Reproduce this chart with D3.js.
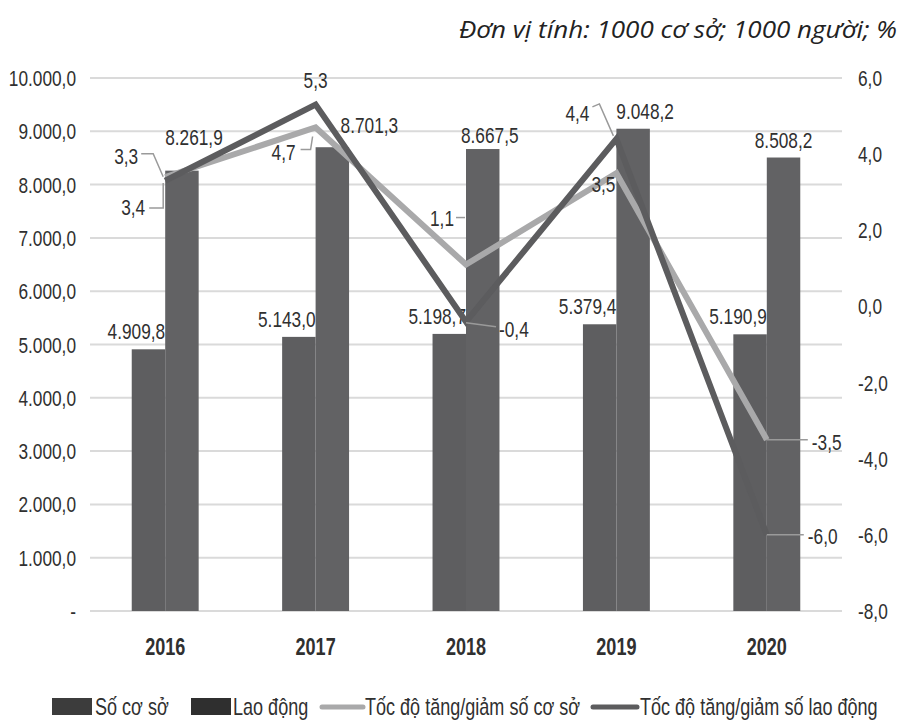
<!DOCTYPE html>
<html>
<head>
<meta charset="utf-8">
<script src="https://cdn.jsdelivr.net/npm/d3@7"></script>
<style>
  body { margin: 0; background: #fff; }
  svg { display: block; }
  text { font-family: "Liberation Sans Narrow", "Liberation Sans", Arial, sans-serif; fill: #303030; }
</style>
</head>
<body>
<svg width="902" height="721"></svg>
<script>
// so lieu bieu do
const years = ["2016", "2017", "2018", "2019", "2020"];
const soCoSo = [4909.8, 5143.0, 5198.7, 5379.4, 5190.9];
const laoDong = [8261.9, 8701.3, 8667.5, 9048.2, 8508.2];
const tocDoCoSo = [3.4, 4.7, 1.1, 3.5, -3.5];
const tocDoLaoDong = [3.3, 5.3, -0.4, 4.4, -6.0];
const leftTicks = [0, 1000, 2000, 3000, 4000, 5000, 6000, 7000, 8000, 9000, 10000];
const rightTicks = [-8, -6, -4, -2, 0, 2, 4, 6];
const legendNames = ["Số cơ sở", "Lao động", "Tốc độ tăng/giảm số cơ sở", "Tốc độ tăng/giảm số lao động"];

// vi tri nhan (chi de dat nhan, khong phai so lieu)
const ldNudge = [[12, -16], [37, -4], [7, 4], [12, 0], [0, 0]];
const coSoLab = [
  {anchor: "end", dx: -20, dy: 38, leader: [[-16, 31], [-2, 31], [-2, 6]]},
  {anchor: "end", dx: -20, dy: 33, leader: [[-15, 22], [-5, 22], [-3, 9]]},
  {anchor: "end", dx: -12, dy: -39, leader: [[-10, -47], [-1, -47]]},
  {anchor: "end", dx: -1, dy: 19, leader: null},
  {anchor: "start", dx: 45, dy: 10, leader: [[0, 0], [41, 0]]}
];
const laoDongLab = [
  {anchor: "end", dx: -27, dy: -17, leader: [[-24, -27], [-12, -27], [-2, -4]]},
  {anchor: "middle", dx: 0, dy: -17, leader: null},
  {anchor: "start", dx: 33, dy: 15, leader: [[0, 1], [30, 5]]},
  {anchor: "end", dx: -27, dy: -18, leader: [[-24, -32], [-17, -35], [-3, -3]]},
  {anchor: "start", dx: 41, dy: 9, leader: [[0, 0], [37, 0]]}
];

const svg = d3.select("svg");
const plotLeft = 90, plotRight = 842, plotTop = 78, plotBottom = 611;
const squeeze = 0.785; // chu hep kieu Arial Narrow

// ve chu hep: dat goc bang translate roi co ngang
function narrowText(parent, x, y, str, anchor, size, weight) {
  return parent.append("text")
    .attr("transform", "translate(" + x + "," + y + ") scale(" + squeeze + ",1)")
    .attr("text-anchor", anchor || "start")
    .style("font-size", (size || 22) + "px")
    .style("font-weight", weight || "normal")
    .text(str);
}

const vn = d3.formatLocale({decimal: ",", thousands: ".", grouping: [3], currency: ["", ""], minus: "-"});
const fmtBig = vn.format(",.1f");
const fmtPct = vn.format(".1f");

const x = d3.scaleBand().domain(years).range([plotLeft, plotRight]);
const groupW = x.bandwidth() * 0.445;
const x1 = d3.scaleBand().domain(["coso", "laodong"]).range([0, groupW]);
const yL = d3.scaleLinear().domain([0, 10000]).range([plotBottom, plotTop]);
const yR = d3.scaleLinear().domain([-8, 6]).range([plotBottom, plotTop]);

// tieu de don vi
const title = svg.append("text")
  .attr("x", 897).attr("y", 38)
  .attr("text-anchor", "end")
  .style("font-family", "'Open Sans', 'Noto Sans', sans-serif")
  .style("font-style", "italic")
  .style("font-size", "23px")
  .style("fill", "#222")
  .text("Đơn vị tính: 1000 cơ sở; 1000 người; %");
const tw = title.node().getComputedTextLength();
if (Math.abs(tw - 438) > 6) title.attr("textLength", 438).attr("lengthAdjust", "spacingAndGlyphs");

// luoi ngang
svg.append("g").selectAll("line")
  .data(leftTicks)
  .join("line")
  .attr("x1", plotLeft).attr("x2", plotRight)
  .attr("y1", d => yL(d)).attr("y2", d => yL(d))
  .attr("stroke", "#dadada").attr("stroke-width", 2);

// truc trai
const gL = svg.append("g");
leftTicks.forEach(d => narrowText(gL, 76, yL(d) + 8, d === 0 ? "-" : fmtBig(d), "end"));

// truc phai
const gR = svg.append("g");
rightTicks.forEach(d => narrowText(gR, 858, yR(d) + 8, fmtPct(d), "start"));

// nam
const gX = svg.append("g");
years.forEach(d => narrowText(gX, x(d) + x.bandwidth() / 2, 655, d, "middle", 23, "bold"));

// cot
const rows = years.map((y, i) => ({year: y, coso: soCoSo[i], laodong: laoDong[i], i: i}));
const groups = svg.append("g").selectAll("g")
  .data(rows)
  .join("g")
  .attr("transform", d => "translate(" + (x(d.year) + (x.bandwidth() - groupW) / 2) + ",0)");

groups.append("rect")
  .attr("x", x1("coso")).attr("width", x1.bandwidth())
  .attr("y", d => yL(d.coso)).attr("height", d => plotBottom - yL(d.coso))
  .attr("fill", "#5e5e60");
groups.append("rect")
  .attr("x", x1("laodong")).attr("width", x1.bandwidth())
  .attr("y", d => yL(d.laodong)).attr("height", d => plotBottom - yL(d.laodong))
  .attr("fill", "#626264");

// nhan cot
groups.each(function(d) {
  const g = d3.select(this);
  narrowText(g, x1("coso") + x1.bandwidth(), yL(d.coso) - 10, fmtBig(d.coso), "end");
  narrowText(g, x1("laodong") + x1.bandwidth() / 2 + ldNudge[d.i][0],
    yL(d.laodong) - 10 + ldNudge[d.i][1], fmtBig(d.laodong), "middle");
});

// duong
const cx = d => x(d) + x.bandwidth() / 2;
const line = d3.line().x(d => cx(d[0])).y(d => yR(d[1]));
const seriesLines = [
  {vals: tocDoCoSo, color: "#a9a9aa", lab: coSoLab},
  {vals: tocDoLaoDong, color: "#5c5c5e", lab: laoDongLab}
];
seriesLines.forEach(s => {
  svg.append("path")
    .datum(years.map((y, i) => [y, s.vals[i]]))
    .attr("d", line)
    .attr("fill", "none")
    .attr("stroke", s.color)
    .attr("stroke-width", 6)
    .attr("stroke-linejoin", "miter");
});

// nhan duong
const gLab = svg.append("g");
seriesLines.forEach(s => {
  years.forEach((y, i) => {
    const px = cx(y), py = yR(s.vals[i]);
    const l = s.lab[i];
    if (l.leader) {
      gLab.append("path")
        .attr("d", d3.line()(l.leader.map(p => [px + p[0], py + p[1]])))
        .attr("fill", "none")
        .attr("stroke", "#9a9a9a")
        .attr("stroke-width", 1.5);
    }
    narrowText(gLab, px + l.dx, py + l.dy, fmtPct(s.vals[i]), l.anchor);
  });
});

// chu giai
const legY = 707;
const legend = [
  {type: "rect", x: 52, w: 40, tx: 95, color: "#3c3c3c"},
  {type: "rect", x: 191, w: 40, tx: 233, color: "#2f2f2f"},
  {type: "line", x: 322, w: 41, tx: 365, color: "#a9a9aa"},
  {type: "line", x: 593, w: 44, tx: 640, color: "#5c5c5e"}
];
const gLeg = svg.append("g");
legend.forEach((d, i) => {
  if (d.type === "rect") {
    gLeg.append("rect").attr("x", d.x).attr("y", legY - 9).attr("width", d.w).attr("height", 17).attr("fill", d.color);
  } else {
    gLeg.append("line").attr("x1", d.x).attr("x2", d.x + d.w).attr("y1", legY).attr("y2", legY)
      .attr("stroke", d.color).attr("stroke-width", 5).attr("stroke-linecap", "round");
  }
  narrowText(gLeg, d.tx, legY + 8, legendNames[i], "start", 23);
});
</script>
</body>
</html>
